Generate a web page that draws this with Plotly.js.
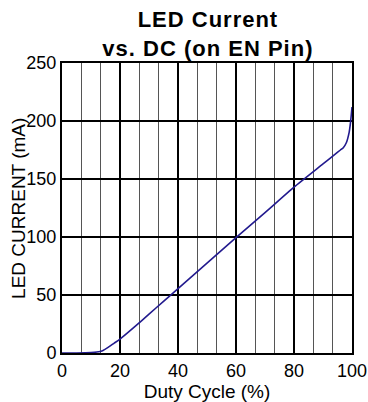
<!DOCTYPE html>
<html><head><meta charset="utf-8">
<script src="https://cdn.plot.ly/plotly-3.0.1.min.js"></script>
<style>html,body{margin:0;padding:0;background:#fff}#c{width:368px;height:402px}
.gtitle{letter-spacing:1px}</style>
</head><body><div id="c"></div>
<script>
const dutyCycle = [0, 5, 10, 12, 14, 16, 18, 20, 25, 30, 35, 40, 50, 60, 70, 80, 90, 94, 96, 97, 98, 99, 99.5, 100];
const ledCurrent = [0, 0, 0.3, 0.8, 2, 5, 8.5, 12, 22.5, 33.5, 44.5, 55.5, 77.5, 99.5, 121, 143, 163, 171, 175, 177, 181, 190, 199, 212];
const xTicks = [0, 20, 40, 60, 80, 100];
const yTicks = [0, 50, 100, 150, 200, 250];

const font = "Liberation Sans, Arial, sans-serif";
Plotly.newPlot('c', [{
  x: dutyCycle, y: ledCurrent, type: 'scatter', mode: 'lines',
  line: {color: '#221a8e', width: 1.6, shape: 'spline', smoothing: 0.6}
}], {
  width: 368, height: 402,
  margin: {l: 62, r: 16, t: 63, b: 49},
  paper_bgcolor: '#fff', plot_bgcolor: '#fff',
  showlegend: false,
  title: {text: '<b>LED Current<br>vs. DC (on EN Pin)</b>', font: {family: font, size: 22, color: '#000'},
    xref: 'container', x: 0.565, xanchor: 'center', yref: 'container', y: 0.933, yanchor: 'bottom'},
  annotations: [{
    text: 'LED CURRENT (mA)', textangle: -90, showarrow: false,
    xref: 'paper', yref: 'paper', x: -0.152, y: 0.5, xanchor: 'center', yanchor: 'middle',
    font: {family: font, size: 19, color: '#000'}
  }],
  xaxis: {
    range: [0, 100], tickvals: xTicks, ticktext: xTicks.map(String),
    showgrid: true, gridcolor: '#000', gridwidth: 1.2,
    minor: {dtick: 20/3, tick0: 0, showgrid: true, gridcolor: '#555', gridwidth: 1.2},
    showline: true, linecolor: '#000', linewidth: 2, mirror: true,
    ticks: '', tickfont: {family: font, size: 18, color: '#000'},
    title: {text: 'Duty Cycle (%)', font: {family: font, size: 19, color: '#000'}, standoff: 2},
    zeroline: false, fixedrange: true
  },
  yaxis: {
    range: [0, 250], tickvals: yTicks, ticktext: yTicks.map(String),
    showgrid: true, gridcolor: '#000', gridwidth: 1.2,
    showline: true, linecolor: '#000', linewidth: 2, mirror: true,
    ticks: '', tickfont: {family: font, size: 18, color: '#000'},
    zeroline: false, fixedrange: true
  }
}, {displayModeBar: false, staticPlot: true});
</script></body></html>
